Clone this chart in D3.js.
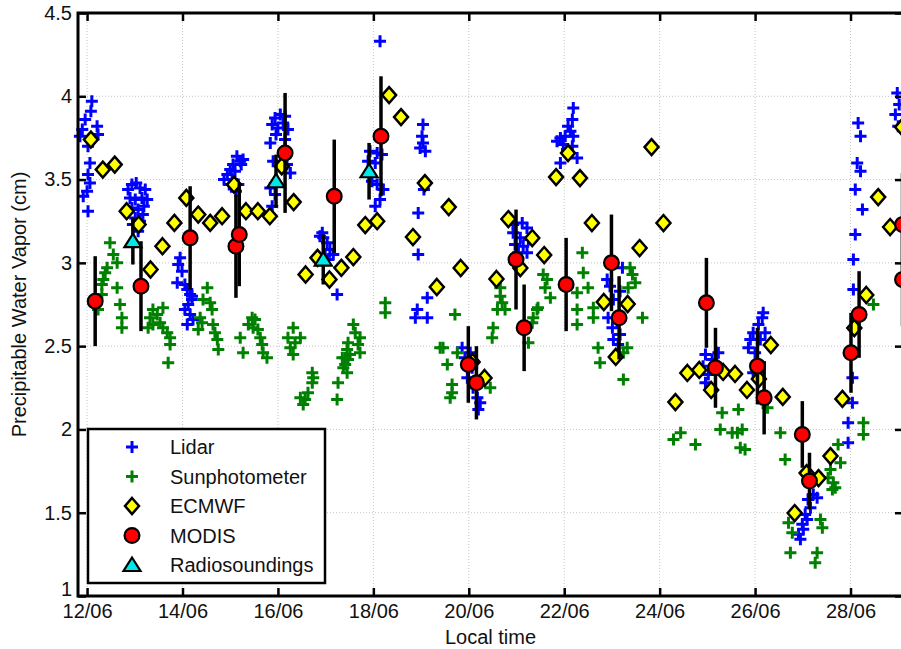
<!DOCTYPE html>
<html>
<head>
<meta charset="utf-8">
<script src="https://cdn.jsdelivr.net/npm/d3@7"></script>
<style>
  html, body { margin: 0; padding: 0; background: #fff; }
  svg { display: block; }
  text { font-family: "Liberation Sans", Arial, sans-serif; }
</style>
</head>
<body>
<svg id="chart" width="901" height="649"></svg>
<script>
// ---------------- DATA (time = day of June, local time; value = PWV in cm) ----------------
const xTickDays = [12, 14, 16, 18, 20, 22, 24, 26, 28];
const xTickLabels = ["12/06", "14/06", "16/06", "18/06", "20/06", "22/06", "24/06", "26/06", "28/06"];
const yTicks = [1, 1.5, 2, 2.5, 3, 3.5, 4, 4.5];
const yTickLabels = ["1", "1.5", "2", "2.5", "3", "3.5", "4", "4.5"];
const legendLabels = ["Lidar", "Sunphotometer", "ECMWF", "MODIS", "Radiosoundings"];

const lidar = [
  [12.10,3.97],[12.08,3.91],[11.96,3.86],[12.21,3.82],[11.90,3.80],[12.23,3.77],[11.85,3.76],[12.02,3.70],
  [12.06,3.60],[12.02,3.53],[12.06,3.48],[12.00,3.43],[11.92,3.40],[12.02,3.31],
  [13.03,3.48],[12.94,3.47],[13.11,3.45],[13.22,3.44],[12.86,3.44],[12.90,3.39],[13.01,3.38],[13.15,3.39],
  [13.26,3.38],[12.94,3.33],[13.07,3.32],[13.19,3.34],[13.01,3.27],[13.11,3.25],[13.17,3.29],[13.07,3.19],[12.96,3.23],
  [13.95,3.03],[13.91,2.99],[13.99,2.95],[13.89,2.88],[14.05,2.87],[14.10,2.84],[14.16,2.81],[14.20,2.78],
  [14.12,2.75],[14.05,2.72],[14.16,2.69],[14.22,2.66],[14.10,2.63],[14.20,2.80],
  [15.14,3.64],[15.21,3.61],[15.06,3.59],[15.00,3.56],[15.10,3.55],[14.94,3.53],[15.04,3.50],[15.17,3.47],
  [14.87,3.50],[15.23,3.59],[14.98,3.47],[15.12,3.43],[15.27,3.62],
  [15.94,3.87],[16.05,3.89],[16.15,3.88],[15.88,3.83],[16.00,3.81],[16.11,3.84],[16.21,3.80],[15.96,3.77],
  [16.15,3.74],[15.84,3.72],[15.90,3.61],[16.19,3.59],[15.84,3.45],[16.26,3.54],[15.94,3.41],[15.88,3.34],
  [16.93,3.18],[16.95,3.15],[17.03,3.12],[17.09,3.08],[17.16,3.05],[16.99,3.04],[17.24,2.81],[16.88,3.16],[17.05,3.02],
  [18.14,4.33],[17.93,3.67],[18.08,3.66],[18.18,3.65],[17.89,3.61],[18.04,3.60],[17.97,3.49],[18.08,3.47],
  [18.21,3.44],[18.14,3.38],[18.04,3.34],
  [19.04,3.83],[19.02,3.76],[19.04,3.72],[18.98,3.69],[19.09,3.67],[19.06,3.44],[18.94,3.30],[18.94,3.05],
  [19.13,2.79],[18.92,2.72],[18.88,2.67],[19.13,2.67],
  [19.86,2.49],[20.03,2.46],[19.92,2.43],[20.07,2.37],[19.97,2.31],[20.09,2.25],[20.18,2.19],[20.24,2.16],[20.20,2.12],
  [20.93,3.23],[21.12,3.24],[21.22,3.21],[20.93,3.18],[21.08,3.15],[21.25,3.14],[20.97,3.11],[21.14,3.10],
  [21.04,3.06],[21.22,3.06],
  [22.19,3.93],[22.17,3.86],[22.08,3.82],[22.13,3.79],[22.02,3.76],[21.92,3.75],[22.19,3.76],[21.85,3.73],
  [21.98,3.71],[22.17,3.70],[22.06,3.68],[22.27,3.63],[21.92,3.60],
  [23.22,2.97],[22.90,2.90],[22.96,2.86],[23.17,2.83],[23.03,2.78],[22.92,2.67],[23.11,2.64],[23.01,2.61],
  [23.17,2.57],[23.03,2.54],[23.13,2.51],
  [24.96,2.45],[25.23,2.46],[25.10,2.42],[24.91,2.38],[25.27,2.37],[25.02,2.33],[24.96,2.28],
  [26.17,2.70],[26.15,2.67],[26.07,2.63],[25.96,2.58],[26.21,2.58],[25.90,2.54],[26.11,2.54],[25.86,2.49],
  [26.00,2.46],[25.96,2.34],
  [27.22,1.61],[27.30,1.59],[27.11,1.58],[27.16,1.53],[27.05,1.49],[27.09,1.46],[26.99,1.43],[27.01,1.40],
  [26.91,1.37],[26.95,1.34],
  [28.16,3.84],[28.21,3.76],[28.14,3.60],[28.21,3.55],[28.10,3.44],[28.25,3.32],[28.10,3.17],[28.06,3.02],
  [28.06,2.84],[28.04,2.31],[28.04,2.16],[27.95,2.04],[27.95,1.92],
  [28.98,4.02],[29.02,3.95],[28.94,3.89],[29.00,3.82]
];

const sunphotometer = [
  [12.48,3.12],[12.55,3.05],[12.63,3.00],[12.42,2.97],[12.38,2.94],[12.34,2.90],[12.31,2.87],[12.63,2.85],
  [12.31,2.81],[12.23,2.72],[12.69,2.75],[12.73,2.67],[12.73,2.61],
  [13.38,2.72],[13.59,2.73],[13.32,2.67],[13.47,2.69],[13.28,2.61],[13.38,2.63],[13.53,2.64],[13.59,2.61],
  [13.68,2.58],[13.74,2.55],[13.74,2.51],[13.70,2.40],
  [14.52,2.85],[14.43,2.78],[14.58,2.76],[14.37,2.67],[14.62,2.72],[14.64,2.63],[14.68,2.58],[14.33,2.60],
  [14.73,2.54],[14.75,2.48],[14.41,2.64],
  [15.46,2.67],[15.52,2.66],[15.38,2.63],[15.48,2.61],[15.58,2.60],[15.21,2.55],[15.63,2.55],[15.67,2.51],
  [15.27,2.46],[15.69,2.46],[15.77,2.43],
  [16.32,2.61],[16.21,2.55],[16.47,2.55],[16.36,2.52],[16.26,2.49],[16.32,2.45],
  [16.47,2.19],[16.57,2.18],[16.63,2.22],[16.72,2.28],[16.74,2.31],[16.72,2.34],[16.53,2.15],[17.24,2.18],[17.26,2.28],
  [17.58,2.63],[17.62,2.58],[17.72,2.55],[17.47,2.52],[17.68,2.51],[17.45,2.48],[17.41,2.43],[17.47,2.42],
  [17.37,2.37],[17.45,2.34],[17.35,2.43],[17.72,2.46],[17.41,2.39],[17.51,2.45],
  [18.25,2.76],[18.25,2.70],
  [19.71,2.69],[19.46,2.49],[19.40,2.49],[19.55,2.39],[19.76,2.46],[19.65,2.27],[19.65,2.22],[19.61,2.19],
  [20.66,2.85],[20.66,2.80],[20.70,2.76],[20.60,2.72],[20.76,2.72],[20.51,2.61],[20.49,2.55],[20.45,2.25],
  [21.33,2.64],[21.35,2.67],[21.43,2.72],[21.45,2.73],[21.25,2.52],[21.56,2.93],[21.64,2.90],[21.60,2.85],[21.71,2.79],
  [22.38,3.06],[22.40,2.94],[22.27,2.82],[22.50,2.85],[22.61,2.73],[22.27,2.72],[22.27,2.63],[22.61,2.67],
  [22.71,2.49],[22.75,2.40],
  [23.38,2.97],[23.43,2.93],[23.49,2.88],[23.34,2.85],[23.64,2.67],[23.32,2.49],[23.24,2.46],[23.24,2.30],
  [24.29,1.94],[24.44,1.98],[24.75,1.91],
  [25.31,2.10],[25.65,2.12],[25.27,2.00],[25.52,1.98],[25.63,1.98],[25.73,2.00],[25.69,1.89],[25.79,1.88],
  [26.26,2.13],[26.53,1.98],[26.63,1.82],
  [26.70,1.44],[26.78,1.38],[26.74,1.26],[27.37,1.46],[27.41,1.41],[27.30,1.26],[27.26,1.20],
  [27.74,1.91],[27.79,1.80],[27.58,1.76],[27.53,1.71],[27.64,1.68],[27.68,1.65],[27.62,1.64],
  [28.27,2.04],[28.27,1.97],[28.48,2.75]
];

const ecmwfTime = [
  12.08,12.33,12.58,12.83,13.08,13.33,13.58,13.83,14.08,14.33,14.58,14.83,15.08,15.33,15.58,15.83,
  16.08,16.33,16.58,16.83,17.08,17.33,17.58,17.83,18.08,18.33,18.58,18.83,19.08,19.33,19.58,19.83,
  20.08,20.33,20.58,20.83,21.08,21.33,21.58,21.83,22.08,22.33,22.58,22.83,23.08,23.33,23.58,23.83,
  24.08,24.33,24.58,24.83,25.08,25.33,25.58,25.83,26.08,26.33,26.58,26.83,27.08,27.33,27.58,27.83,
  28.08,28.33,28.58,28.83,29.08
];
const ecmwfPWV = [
  3.74,3.56,3.59,3.31,3.23,2.96,3.10,3.24,3.39,3.29,3.24,3.28,3.47,3.31,3.31,3.28,
  3.58,3.365,2.93,3.03,2.90,2.97,3.035,3.227,3.25,4.007,3.875,3.155,3.479,2.855,3.335,2.969,
  2.405,2.309,2.903,3.263,2.969,3.149,3.047,3.515,3.659,3.509,3.239,2.765,2.435,2.753,3.089,3.695,
  3.239,2.164,2.339,2.357,2.237,2.345,2.333,2.237,2.303,2.507,2.195,1.498,1.738,1.708,1.840,2.183,
  2.609,2.807,3.395,3.215,3.815
];

// MODIS: [time, value, uncertainty]
const modis = [
  [12.17,2.77,0.27],[13.13,2.86,0.27],[14.16,3.15,0.31],[15.12,3.10,0.31],[15.19,3.17,0.31],
  [16.15,3.66,0.36],[17.18,3.40,0.34],[18.16,3.76,0.36],[19.99,2.39,0.23],[20.16,2.28,0.22],
  [20.99,3.02,0.30],[21.16,2.61,0.26],[22.04,2.87,0.28],[22.99,3.00,0.29],[23.15,2.67,0.25],
  [24.98,2.76,0.27],[25.17,2.37,0.24],[26.05,2.38,0.23],[26.19,2.19,0.22],[26.99,1.97,0.20],
  [27.14,1.69,0.17],[28.01,2.46,0.24],[28.18,2.69,0.26],[29.09,3.23,0.31],[29.09,2.90,0.28]
];

// Radiosoundings: [time, value, uncertainty]
const radiosondes = [
  [12.96,3.13,0.14],[15.96,3.49,0.16],[16.95,3.02,0.15],[17.91,3.55,0.17]
];

// ---------------- CHART ----------------
const svg = d3.select("#chart");
const plot = { left: 78, right: 903, top: 13, bottom: 596 };

const x = d3.scaleLinear().domain([11.81, 29.1]).range([plot.left, plot.right]);
const y = d3.scaleLinear().domain([1, 4.5]).range([plot.bottom, plot.top]);

const FONT = 20;

// grid
const grid = svg.append("g").attr("class", "grid");
grid.selectAll("line.vx").data(xTickDays).enter().append("line")
  .attr("x1", d => x(d)).attr("x2", d => x(d))
  .attr("y1", plot.top).attr("y2", plot.bottom)
  .attr("stroke", "#c4c4c4").attr("stroke-width", 1).attr("stroke-dasharray", "1,2");
grid.selectAll("line.hy").data(yTicks).enter().append("line")
  .attr("x1", plot.left).attr("x2", plot.right)
  .attr("y1", d => y(d)).attr("y2", d => y(d))
  .attr("stroke", "#c4c4c4").attr("stroke-width", 1).attr("stroke-dasharray", "1,2");

// data layer
const plus = "M-6,0H6M0,-6V6";
svg.append("g").selectAll("path").data(lidar).enter().append("path")
  .attr("d", plus).attr("transform", d => `translate(${x(d[0])},${y(d[1])})`)
  .attr("stroke", "#0000ff").attr("stroke-width", 3).attr("fill", "none");

svg.append("g").selectAll("path").data(sunphotometer).enter().append("path")
  .attr("d", plus).attr("transform", d => `translate(${x(d[0])},${y(d[1])})`)
  .attr("stroke", "#008000").attr("stroke-width", 3).attr("fill", "none");

const diamond = "M0,-8L7,0L0,8L-7,0Z";
const ecmwf = ecmwfTime.map((t, i) => [t, ecmwfPWV[i]]);
svg.append("g").selectAll("path").data(ecmwf).enter().append("path")
  .attr("d", diamond).attr("transform", d => `translate(${x(d[0])},${y(d[1])})`)
  .attr("fill", "#ffff00").attr("stroke", "#000").attr("stroke-width", 2.5);

// MODIS error bars + markers
const gm = svg.append("g");
gm.selectAll("line").data(modis).enter().append("line")
  .attr("x1", d => x(d[0])).attr("x2", d => x(d[0]))
  .attr("y1", d => y(d[1] + d[2])).attr("y2", d => y(d[1] - d[2]))
  .attr("stroke", "#000").attr("stroke-width", 3.5);
gm.selectAll("circle").data(modis).enter().append("circle")
  .attr("cx", d => x(d[0])).attr("cy", d => y(d[1])).attr("r", 7.4)
  .attr("fill", "#ff0000").attr("stroke", "#000").attr("stroke-width", 2.2);

// Radiosoundings
const tri = "M0,-7.5L8.5,6L-8.5,6Z";
const gr = svg.append("g");
gr.selectAll("line").data(radiosondes).enter().append("line")
  .attr("x1", d => x(d[0])).attr("x2", d => x(d[0]))
  .attr("y1", d => y(d[1] + d[2])).attr("y2", d => y(d[1] - d[2]))
  .attr("stroke", "#000").attr("stroke-width", 3.5);
gr.selectAll("path").data(radiosondes).enter().append("path")
  .attr("d", tri).attr("transform", d => `translate(${x(d[0])},${y(d[1])})`)
  .attr("fill", "#00e8e8").attr("stroke", "#000").attr("stroke-width", 2.2);

// axes
function styleAxis(g) {
  g.select(".domain").remove();
  g.selectAll(".tick line").attr("stroke", "#000").attr("stroke-width", 2.5);
  g.selectAll(".tick text").attr("fill", "#111").style("font-size", FONT + "px")
    .style("font-family", '"Liberation Sans", Arial, sans-serif');
}
const xAxis = d3.axisBottom(x).tickValues(xTickDays)
  .tickFormat((d, i) => xTickLabels[i]).tickSizeInner(-8).tickSizeOuter(0).tickPadding(8);
svg.append("g").attr("transform", `translate(0,${plot.bottom})`).call(xAxis).call(styleAxis);

const xAxisTop = d3.axisTop(x).tickValues(xTickDays).tickFormat("").tickSizeInner(-8).tickSizeOuter(0);
svg.append("g").attr("transform", `translate(0,${plot.top})`).call(xAxisTop).call(styleAxis);

const yAxis = d3.axisLeft(y).tickValues(yTicks)
  .tickFormat((d, i) => yTickLabels[i]).tickSizeInner(-8).tickSizeOuter(0).tickPadding(6);
const yAxisG = svg.append("g").attr("transform", `translate(${plot.left},0)`).call(yAxis).call(styleAxis);
// lowest label sits just above the x tick labels, as in the original
yAxisG.selectAll(".tick text").filter(d => d === 1).attr("dy", "-0.05em");

const yAxisRight = d3.axisRight(y).tickValues(yTicks).tickFormat("").tickSizeInner(-8).tickSizeOuter(0);
svg.append("g").attr("transform", `translate(${plot.right},0)`).call(yAxisRight).call(styleAxis);

// box
svg.append("rect").attr("x", plot.left).attr("y", plot.top)
  .attr("width", plot.right - plot.left).attr("height", plot.bottom - plot.top)
  .attr("fill", "none").attr("stroke", "#000").attr("stroke-width", 3);

// axis labels
svg.append("text").attr("x", (plot.left + plot.right) / 2).attr("y", 644)
  .attr("text-anchor", "middle").attr("fill", "#111").style("font-size", FONT + "px")
  .text("Local time");
svg.append("text").attr("transform", `translate(26,${(plot.top + plot.bottom) / 2}) rotate(-90)`)
  .attr("text-anchor", "middle").attr("fill", "#111").style("font-size", FONT + "px")
  .text("Precipitable Water Vapor (cm)");

// legend
const lg = svg.append("g");
lg.append("rect").attr("x", 88).attr("y", 429).attr("width", 237).attr("height", 154)
  .attr("fill", "#fff").attr("stroke", "#000").attr("stroke-width", 2.5);
const rowY = d3.scalePoint().domain(legendLabels).range([447, 565]);
const mx = 132, tx = 170;
lg.append("path").attr("d", plus).attr("transform", `translate(${mx},${rowY("Lidar")})`)
  .attr("stroke", "#0000ff").attr("stroke-width", 3).attr("fill", "none");
lg.append("path").attr("d", plus).attr("transform", `translate(${mx},${rowY("Sunphotometer")})`)
  .attr("stroke", "#008000").attr("stroke-width", 3).attr("fill", "none");
lg.append("path").attr("d", diamond).attr("transform", `translate(${mx},${rowY("ECMWF")})`)
  .attr("fill", "#ffff00").attr("stroke", "#000").attr("stroke-width", 2.5);
lg.append("circle").attr("cx", mx).attr("cy", rowY("MODIS")).attr("r", 7.4)
  .attr("fill", "#ff0000").attr("stroke", "#000").attr("stroke-width", 2.2);
lg.append("path").attr("d", tri).attr("transform", `translate(${mx},${rowY("Radiosoundings")})`)
  .attr("fill", "#00e8e8").attr("stroke", "#000").attr("stroke-width", 2.2);
lg.selectAll("text").data(legendLabels).enter().append("text")
  .attr("x", tx).attr("y", d => rowY(d)).attr("dy", "0.36em")
  .attr("fill", "#111").style("font-size", FONT + "px").text(d => d);
</script>
</body>
</html>
